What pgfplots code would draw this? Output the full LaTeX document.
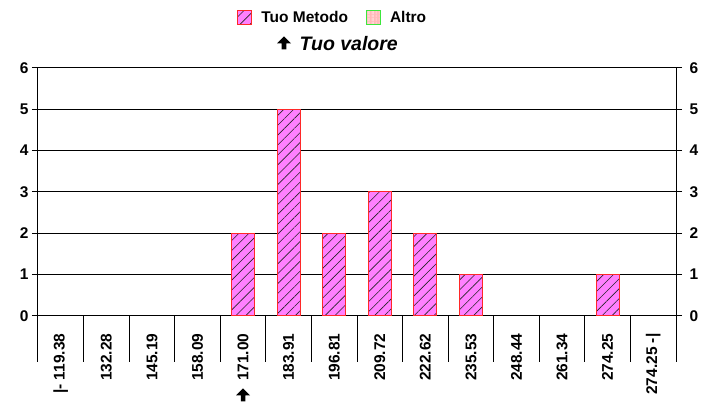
\documentclass[border=0pt]{standalone}
\usepackage{fontspec}
\setmainfont{Liberation Sans}
\usepackage{pgfplots}
\usepackage{pgfplotstable}
\pgfplotsset{compat=1.18}
\usetikzlibrary{patterns,patterns.meta,calc,shapes.arrows}

\definecolor{barpink}{RGB}{255,128,255}
\definecolor{barred}{RGB}{255,40,40}
\definecolor{altgreen}{RGB}{60,230,60}
\definecolor{altpink}{RGB}{255,185,185}

% category index, count (categories with 0 are omitted)
\pgfplotstableread{
x y
4 2
5 5
6 2
7 3
8 2
9 1
12 1
}\tuo
\pgfplotstableread{
x y
4 0
5 0
6 0
7 0
8 0
9 0
12 0
}\altro

\newcommand{\lblfont}{\bfseries\fontsize{15.5}{15.5}\selectfont}
\tikzset{uparrow/.style={single arrow, fill=black, draw=none, shape border rotate=90,
  minimum width=14pt, minimum height=13pt, single arrow head extend=3.5pt, inner sep=1.5pt}}

\begin{document}
\begin{tikzpicture}
\begin{axis}[
  name=ax,
  scale only axis, width=638pt, height=248pt,
  xmin=-0.5, xmax=13.5, ymin=0, ymax=6,
  ybar stacked, bar width=23pt,
  axis line style={black, line width=1pt},
  xtick={0,...,13},
  xticklabels={{|- 119.38},132.28,145.19,158.09,171.00,183.91,196.81,209.72,222.62,235.53,248.44,261.34,274.25,{274.25 -|}},
  xticklabel style={rotate=90, anchor=east, font=\lblfont},
  xticklabel shift=8pt,
  xtick pos=bottom,
  x tick style={draw=none},
  ytick={0,...,6},
  ytick pos=left,
  y tick style={black, line width=1pt},
  tick align=outside, major tick length=6pt,
  yticklabel style={font=\lblfont},
  /pgf/number format/assume math mode=true,
  ymajorgrids, grid style={black, line width=1pt},
  legend style={at={(0.462,1)}, anchor=south, yshift=40pt, draw=none, fill=none,
    legend columns=2, font=\lblfont,
    /tikz/every odd column/.append style={column sep=7pt},
    /tikz/every even column/.append style={column sep=16pt}},
  every axis plot post/.append style={legend image code/.code={\draw[#1] (0pt,-7pt) rectangle (14pt,7pt);}},
]
\addplot[fill=barpink, draw=barred, line width=1pt,
  postaction={pattern color=black!85, pattern={Lines[angle=45,distance=7pt,line width=0.6pt]}}]
  table[x=x,y=y]{\tuo};
\addlegendentry{Tuo Metodo}
\addplot[fill=altpink, draw=altgreen, line width=1pt,
  postaction={pattern color=white!50!altpink, pattern={Lines[angle=90,distance=4pt,line width=1.3pt]}}]
  table[x=x,y=y]{\altro};
\addlegendentry{Altro}
\end{axis}
\begin{axis}[
  at={(ax.south west)}, anchor=south west,
  scale only axis, width=638pt, height=248pt,
  xmin=0, xmax=1, ymin=0, ymax=6,
  hide x axis,
  axis line style={black, line width=1pt},
  ytick={0,...,6},
  ytick pos=right, yticklabel pos=right,
  y tick style={black, line width=1pt},
  tick align=outside, major tick length=6pt,
  yticklabel style={font=\lblfont, xshift=4pt},
  /pgf/number format/assume math mode=true,
]
\end{axis}
\foreach \i in {0,...,14}
  \draw[black, line width=1pt] ($(ax.south west)!\i/14!(ax.south east)$) -- ++(0,-46pt);
\node[uparrow] at ([xshift=246pt,yshift=24pt]ax.north west) {};
\node[font=\bfseries\itshape\fontsize{19.5}{19.5}\selectfont, anchor=west] at ([xshift=258pt,yshift=24pt]ax.north west) {Tuo valore};
\node[uparrow] at ([yshift=-80pt]$(ax.south west)!0.3214!(ax.south east)$) {};
\pgfresetboundingbox
\path ([xshift=-38pt,yshift=-87pt]ax.south west) rectangle ([xshift=31pt,yshift=68pt]ax.north east);
\end{tikzpicture}
\end{document}
